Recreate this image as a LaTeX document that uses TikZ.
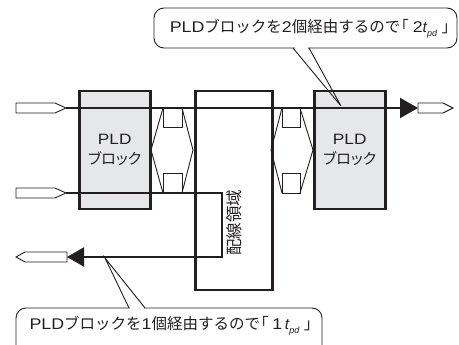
\documentclass[tikz,border=0pt]{standalone}
\usepackage{fontspec}
\setmainfont{Liberation Sans}
\newfontfamily\jp{Noto Sans CJK JP}
\newfontfamily\jpp[RawFeature=+palt]{Noto Sans CJK JP}
\newfontfamily\lat[FakeStretch=1.15]{Liberation Sans}
\usetikzlibrary{arrows.meta}
\definecolor{ink}{HTML}{231F20}
\definecolor{blk}{HTML}{E6E7E8}
\begin{document}
\begin{tikzpicture}[x=1pt,y=-1pt,
  block/.style={draw=ink,fill=blk,line width=2.5pt,inner sep=0pt,anchor=north west,
    minimum width=71pt,minimum height=118pt,align=center,text=ink,
    font=\fontsize{15}{20}\selectfont},
  region/.style={draw=ink,line width=2.5pt,inner sep=0pt,anchor=north west},
  sig/.style={draw=ink,line width=2pt},
  thinline/.style={draw=ink,line width=0.9pt},
  port/.style={draw=ink,fill=white,line width=0.9pt},
  lbl/.style={inner sep=0pt,text=ink,font=\fontsize{15.5}{17}\selectfont},
]
\useasboundingbox (0,0) rectangle (459,345);
% blocks
\node[block] (pld1) at (78,90) {{\lat PLD}\\{\jpp ブロック}};
\node[block] (pld2) at (313,90) {{\lat PLD}\\{\jpp ブロック}};
\node[region,minimum width=77pt,minimum height=199pt] (wire) at (194,90) {};
\node[lbl,rotate=90,font=\fontsize{16.5}{18}\selectfont\jp] (wirelbl) at (234,223) {配線領域};
% bus symbols (left)
\draw[thinline] (163,108) -- (151,150) -- (163,193);
\draw[thinline] (182,108) -- (193,150) -- (182,193);
\draw[thinline] (163,108) rectangle (182,127);
\draw[thinline] (163,173) rectangle (182,193);
% bus symbols (right)
\draw[thinline] (282,108) -- (271,150) -- (282,193);
\draw[thinline] (300,108) -- (313,150) -- (300,193);
\draw[thinline] (282,108) rectangle (300,127);
\draw[thinline] (282,173) rectangle (300,193);
% ports
\draw[port] (16,103) -- (55,103) -- (66,108) -- (55,113) -- (16,113) -- cycle;
\coordinate (in1) at (66,108);
\draw[port] (16,188) -- (55,188) -- (66,193) -- (55,198) -- (16,198) -- cycle;
\coordinate (in2) at (66,193);
\draw[port] (418,103) -- (443,103) -- (453,108) -- (443,113) -- (418,113) -- cycle;
\coordinate (out1) at (418,108);
\draw[port] (67,252) -- (25,252) -- (16,257) -- (25,262) -- (67,262) -- cycle;
\coordinate (out2) at (67,257);
\coordinate (turn1) at (222,193);
\coordinate (turn2) at (222,257);
% signals
\draw[sig,-{Triangle[length=18pt,width=20pt]}] (in1) -- (out1);
\draw[sig,-{Triangle[length=17pt,width=19pt]}] (in2) -- (turn1) -- (turn2) -- (out2);
% top callout
\draw[thinline,rounded corners=10pt] (154,8) rectangle (457,48);
\fill[white] (294.5,46) rectangle (307.5,50);
\coordinate (tip1) at (341,106);
\draw[thinline] (293,48) -- (tip1) -- (309,48);
\node[lbl] (c1) at (310,29) {{\lat PLD}{\jp ブロックを}{\lat 2}{\jp 個経由するので}\kern-0.45em{\jp 「}\kern0.25em{\lat 2}{\itshape t}\raisebox{-0.25em}{\fontsize{9}{9}\selectfont\itshape pd}\kern0.3em{\jp 」}\kern-0.45em};
% bottom callout
\draw[thinline,rounded corners=10pt] (16,345) -- (16,308) -- (322,308) -- (322,345);
\fill[white] (130,306) rectangle (144,310);
\coordinate (tip2) at (105,258);
\draw[thinline] (129,308) -- (tip2) -- (145,308);
\node[lbl] (c2) at (171,326) {{\lat PLD}{\jp ブロックを}{\lat 1}{\jp 個経由するので}\kern-0.45em{\jp 「}\kern0.25em{\lat 1\,}{\itshape t}\raisebox{-0.25em}{\fontsize{9}{9}\selectfont\itshape pd}\kern0.3em{\jp 」}\kern-0.45em};
\end{tikzpicture}
\end{document}
